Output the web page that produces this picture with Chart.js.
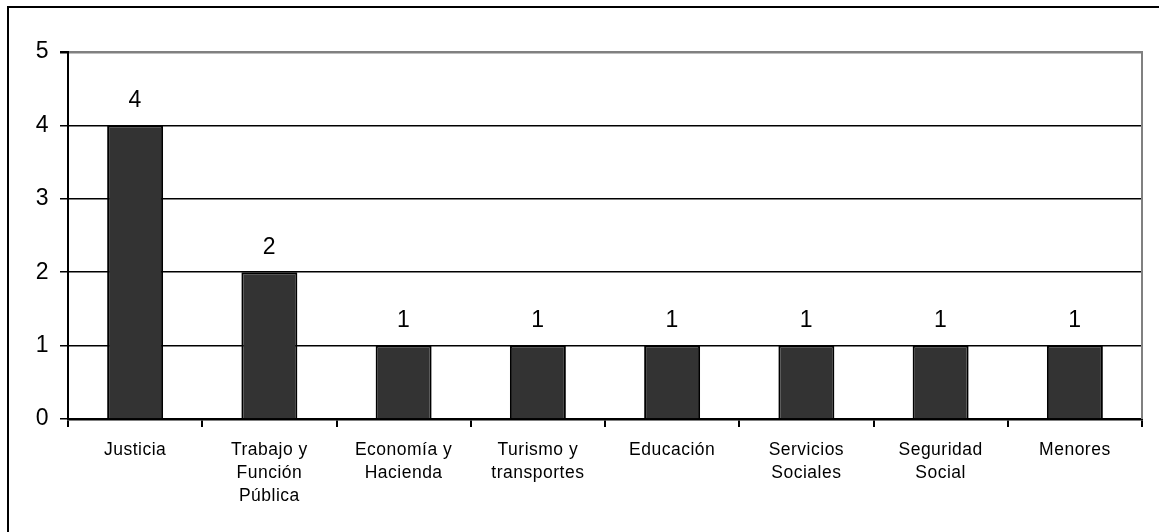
<!DOCTYPE html>
<html>
<head>
<meta charset="utf-8">
<script src="https://cdn.jsdelivr.net/npm/chart.js@4/dist/chart.umd.min.js"></script>
<style>
html,body{margin:0;padding:0;background:#fff;}
#wrap{position:relative;width:1159px;height:532px;}
canvas{display:block;}
</style>
</head>
<body>
<div id="wrap"><canvas id="c" width="1159" height="532"></canvas></div>
<script>
const categories = [
  ['Justicia'],
  ['Trabajo y', 'Función', 'Pública'],
  ['Economía y', 'Hacienda'],
  ['Turismo y', 'transportes'],
  ['Educación'],
  ['Servicios', 'Sociales'],
  ['Seguridad', 'Social'],
  ['Menores']
];
const values = [4, 2, 1, 1, 1, 1, 1, 1];
const yMin = 0, yMax = 5, yStep = 1;

const FONT = "'Liberation Sans', Arial, sans-serif";

const framePlugin = {
  id: 'frame',
  beforeDraw(chart) {
    const ctx = chart.ctx;
    try { ctx.letterSpacing = '0.5px'; } catch (e) {}
    ctx.save();
    ctx.fillStyle = '#fff';
    ctx.fillRect(0, 0, chart.width, chart.height);
    ctx.fillStyle = '#000';
    ctx.fillRect(7, 6, chart.width, 2);
    ctx.fillRect(7, 6, 2, chart.height);
    ctx.restore();
  },
  afterDraw(chart) {
    const a = chart.chartArea;
    const ctx = chart.ctx;
    ctx.save();
    ctx.strokeStyle = '#808080';
    ctx.lineWidth = 2;
    ctx.beginPath();
    ctx.moveTo(a.right, a.top - 1);
    ctx.lineTo(a.right, a.bottom);
    ctx.stroke();
    ctx.restore();
  }
};

const labelPlugin = {
  id: 'barLabels',
  afterDatasetsDraw(chart) {
    const ctx = chart.ctx;
    const meta = chart.getDatasetMeta(0);
    ctx.save();
    ctx.font = '23px ' + FONT;
    ctx.fillStyle = '#000';
    ctx.textAlign = 'center';
    ctx.textBaseline = 'middle';
    meta.data.forEach((bar, i) => {
      ctx.fillText(String(values[i]), bar.x, bar.y - 25);
    });
    ctx.restore();
  }
};

new Chart(document.getElementById('c'), {
  type: 'bar',
  data: {
    labels: categories,
    datasets: [{
      data: values,
      backgroundColor: '#333333',
      borderColor: '#000000',
      borderWidth: 2,
      barPercentage: 0.417,
      categoryPercentage: 1.0
    }]
  },
  options: {
    responsive: false,
    animation: false,
    devicePixelRatio: 1,
    layout: { padding: { left: 0, right: 17, top: 52, bottom: 0 } },
    plugins: { legend: { display: false }, tooltip: { enabled: false } },
    scales: {
      x: {
        offset: true,
        afterFit(s) { s.height = 113; },
        border: { display: true, color: '#000', width: 2.5 },
        grid: {
          offset: true,
          drawOnChartArea: false,
          drawTicks: true,
          tickLength: 8,
          color: '#000',
          lineWidth: 2
        },
        ticks: {
          color: '#000',
          font: { family: FONT, size: 17.5, lineHeight: '23px' },
          padding: 12,
          maxRotation: 0,
          autoSkip: false
        }
      },
      y: {
        min: yMin,
        max: yMax,
        afterFit(s) { s.width = 68; },
        border: { display: true, color: '#000', width: 2 },
        grid: {
          color: (c) => (c.tick && c.tick.value === yMax) ? '#808080' : '#000',
          lineWidth: (c) => (c.tick && c.tick.value === yMax) ? 2.5 : 1.5,
          tickColor: '#000',
          tickLength: 8,
          drawTicks: true
        },
        ticks: {
          stepSize: yStep,
          color: '#000',
          font: { family: FONT, size: 23 },
          padding: 11
        }
      }
    }
  },
  plugins: [framePlugin, labelPlugin]
});
</script>
</body>
</html>
